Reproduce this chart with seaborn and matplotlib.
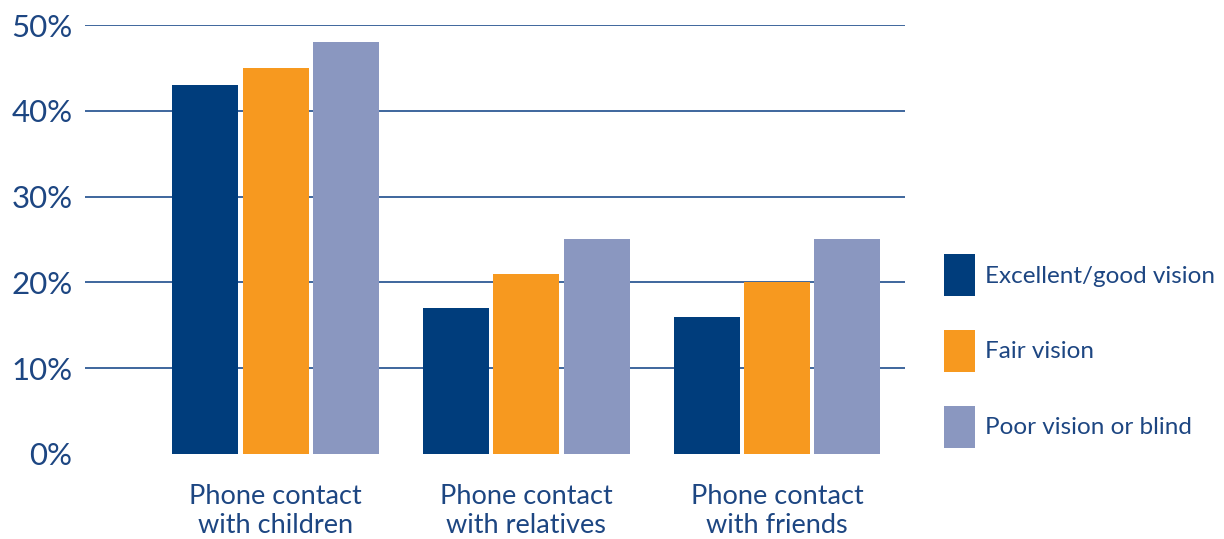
import pandas as pd
import seaborn as sns
import matplotlib.pyplot as plt

# values (percent)
categories = ["Phone contact\nwith children", "Phone contact\nwith relatives", "Phone contact\nwith friends"]
groups = ["Excellent/good vision", "Fair vision", "Poor vision or blind"]
excellent = [43, 17, 16]
fair = [45, 21, 20]
poor = [48, 25, 25]

colors = ["#003d7c", "#f7991f", "#8a97c0"]
navy = "#1d4682"

df = pd.DataFrame({"category": categories * 3,
                   "group": [g for g in groups for _ in categories],
                   "value": excellent + fair + poor})

sns.set_style("white")
plt.rcParams['font.family'] = ['Lato', 'DejaVu Sans']

fig = plt.figure(figsize=(12.24, 5.39), dpi=100)
ax = fig.add_axes([0.0694, 0.158, 0.67, 0.7956])

sns.barplot(data=df, x="category", y="value", hue="group", palette=colors,
            width=0.84, gap=0.06, saturation=1, linewidth=0, ax=ax, zorder=3)

ax.set_ylim(0, 50)
ax.set_xlim(-0.76, 2.51)
ax.set_yticks([0, 10, 20, 30, 40, 50])
ax.set_yticklabels([f"{v}%" for v in [0, 10, 20, 30, 40, 50]])
for v in [10, 20, 30, 40, 50]:
    ax.axhline(v, color="#2f5b95", lw=1.3, zorder=1)
sns.despine(ax=ax, left=True, bottom=True)
ax.set_xlabel("")
ax.set_ylabel("")
ax.tick_params(axis="y", length=0, pad=9, labelsize=22.5, labelcolor=navy)
ax.tick_params(axis="x", length=0, pad=22, labelsize=19.5, labelcolor=navy)
for t in ax.get_xticklabels():
    t.set_linespacing(1.2)

handles, labels = ax.get_legend_handles_labels()
ax.legend(handles, labels, loc="center left", bbox_to_anchor=(1.047, 0.24),
          frameon=False, fontsize=17.5, labelcolor=navy, borderaxespad=0, borderpad=0,
          handlelength=1.3, handleheight=2.3, labelspacing=1.38, handletextpad=0.4)

fig.savefig("out.png", dpi=100)
